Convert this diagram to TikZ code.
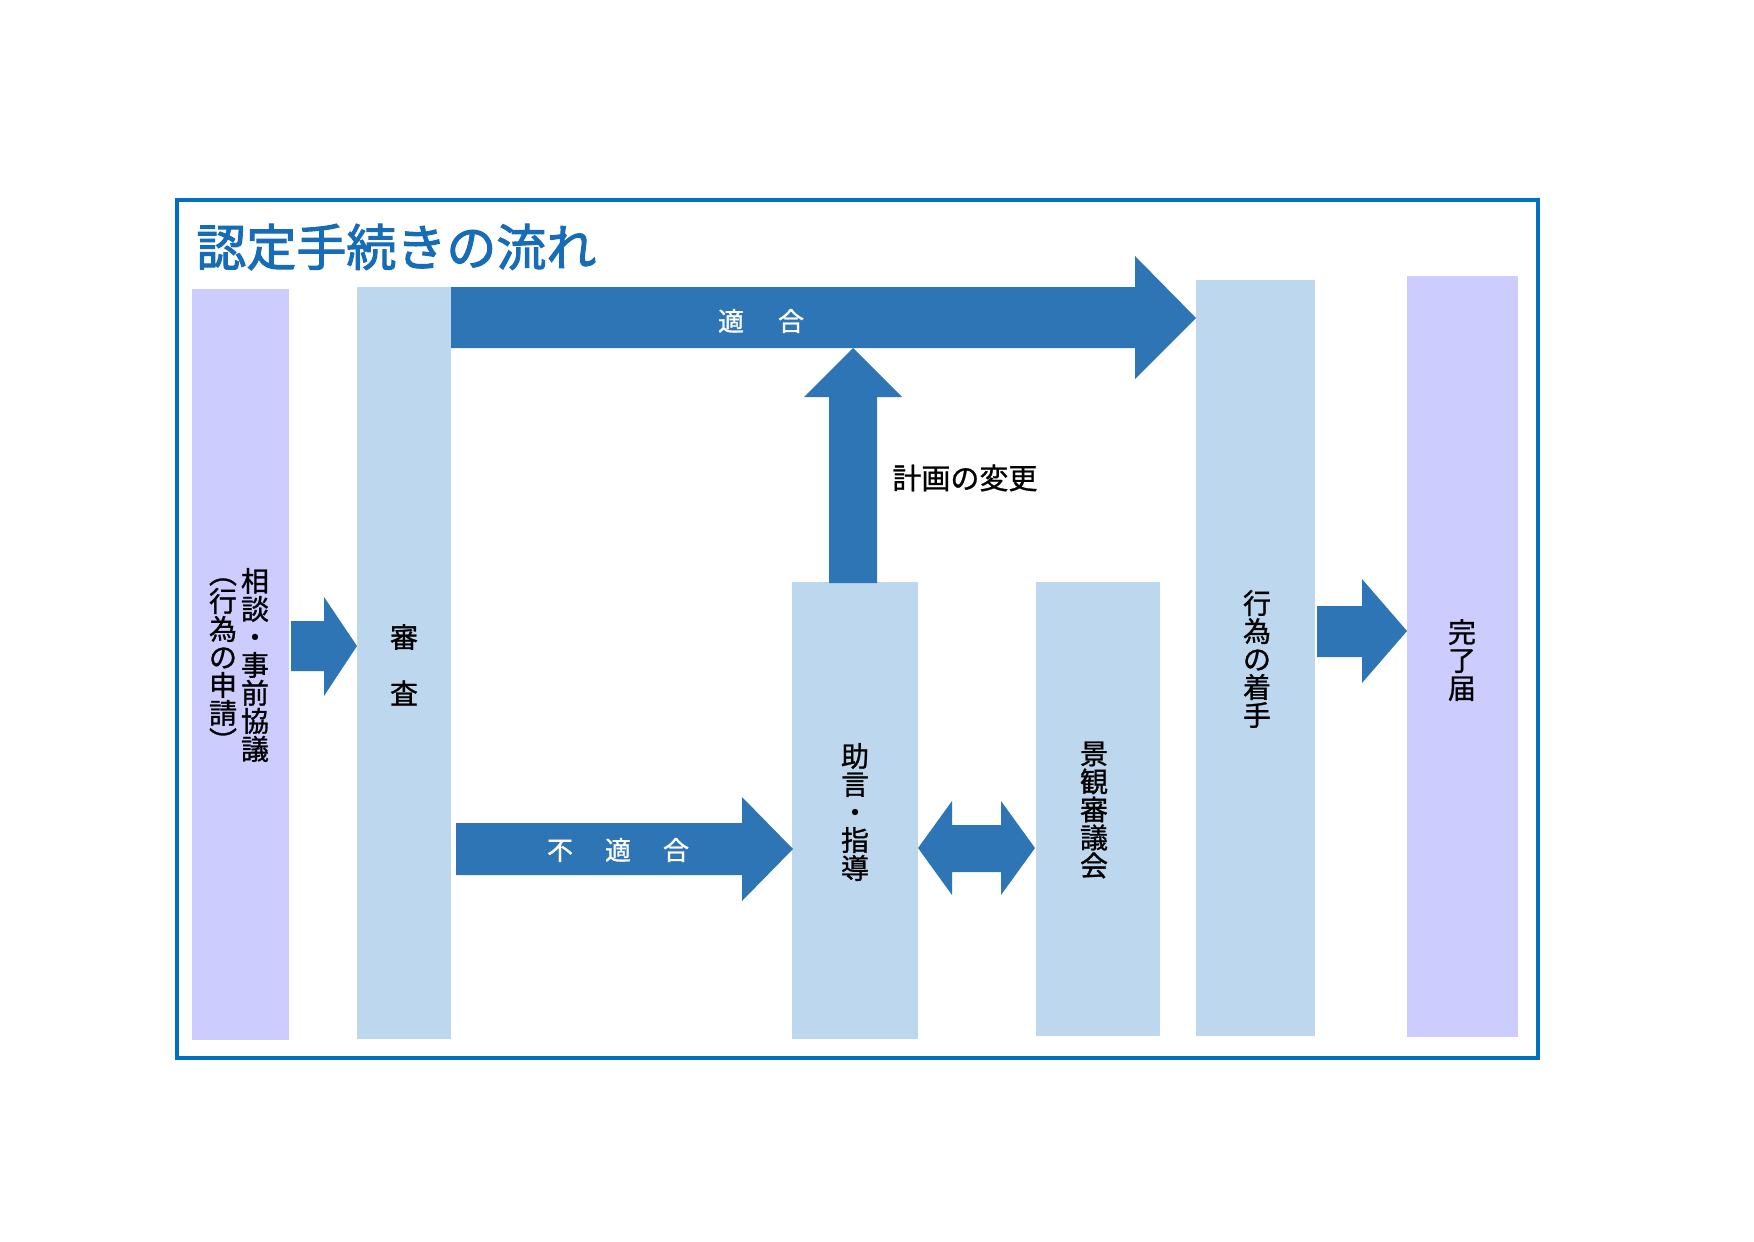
\documentclass[tikz,border=0pt]{standalone}
\usepackage{fontspec}
\newfontfamily\jp{Noto Sans CJK JP}[FakeBold=1.0]
\newfontfamily\jptitle{Noto Sans CJK JP}[FakeBold=2.0]
\usetikzlibrary{fit}
\definecolor{arrowblue}{RGB}{46,117,182}
\definecolor{boxblue}{RGB}{189,215,238}
\definecolor{boxlav}{RGB}{204,204,255}
\definecolor{frameblue}{RGB}{0,112,192}
\definecolor{titleblue}{RGB}{22,108,182}
\begin{document}
\begin{tikzpicture}[x=0.5pt,y=-0.5pt,
  lavbox/.style={fill=boxlav, inner sep=0pt, draw=none},
  bluebox/.style={fill=boxblue, inner sep=0pt, draw=none},
  vtext/.style={inner sep=0pt, align=center, text=black, font={\jp\fontsize{14pt}{14pt}\selectfont}},
  arrowtext/.style={inner sep=0pt, text=white, font={\jp\fontsize{13pt}{13pt}\selectfont}},
  blockarrow/.style={fill=arrowblue, draw=none}]
\useasboundingbox (0,0) rectangle (1754,1241);
\fill[white] (0,0) rectangle (1754,1241);
% frame
\node[draw=frameblue, line width=1.6pt, inner sep=0pt, fit={(177,200)(1538,1058)}] (frame) {};
\node[anchor=west, inner sep=0pt, text=titleblue, font={\jptitle\fontsize{25pt}{25pt}\selectfont}] (title) at (196,247) {認定手続きの流れ};
% boxes
\node[lavbox, fit={(192,289)(289,1040)}] (soudan) {};
\node[bluebox, fit={(357,287)(451,1039)}] (shinsa) {};
\node[bluebox, fit={(792,582)(918,1039)}] (jogen) {};
\node[bluebox, fit={(1036,582)(1160,1036)}] (keikan) {};
\node[bluebox, fit={(1196,280)(1315,1036)}] (koui) {};
\node[lavbox, fit={(1407,276)(1518,1037)}] (kanryo) {};
% texts in boxes
\node[vtext] (t1a) at (255,665) {相\\談\\・\\事\\前\\協\\議};
\node[vtext] (t1b) at (223,665) {︵\\行\\為\\の\\申\\請\\︶};
\node[vtext] (t2a) at (404,637) {審};
\node[vtext] (t2b) at (404,693) {査};
\node[vtext] (t3) at (855,812) {助\\言\\・\\指\\導};
\node[vtext] (t4) at (1094,810) {景\\観\\審\\議\\会};
\node[vtext] (t5) at (1257,659) {行\\為\\の\\着\\手};
\node[vtext] (t6) at (1462,660) {完\\了\\届};
% block arrows
\fill[blockarrow] (451,287) -- (1135,287) -- (1135,256) -- (1196,318) -- (1135,379) -- (1135,348) -- (451,348) -- cycle;
\fill[blockarrow] (829,583) -- (829,397) -- (804,397) -- (853,348) -- (902,397) -- (877,397) -- (877,583) -- cycle;
\fill[blockarrow] (456,823) -- (742,823) -- (742,797) -- (793,849) -- (742,901) -- (742,875) -- (456,875) -- cycle;
\fill[blockarrow] (918,848) -- (952,801) -- (952,825) -- (1001,825) -- (1001,801) -- (1035,848) -- (1001,895) -- (1001,872) -- (952,872) -- (952,895) -- cycle;
\fill[blockarrow] (291,621) -- (324,621) -- (324,597) -- (357,646) -- (324,696) -- (324,671) -- (291,671) -- cycle;
\fill[blockarrow] (1317,606) -- (1362,606) -- (1362,579) -- (1407,631) -- (1362,683) -- (1362,657) -- (1317,657) -- cycle;
% arrow labels
\node[arrowtext] (tekigo) at (761,321) {適\hspace{17pt}合};
\node[arrowtext] (futekigo) at (618,850) {不\hspace{16pt}適\hspace{16pt}合};
\node[anchor=west, inner sep=0pt, font={\jp\fontsize{14.5pt}{14.5pt}\selectfont}] (henko) at (892,478) {計画の変更};
\end{tikzpicture}
\end{document}
